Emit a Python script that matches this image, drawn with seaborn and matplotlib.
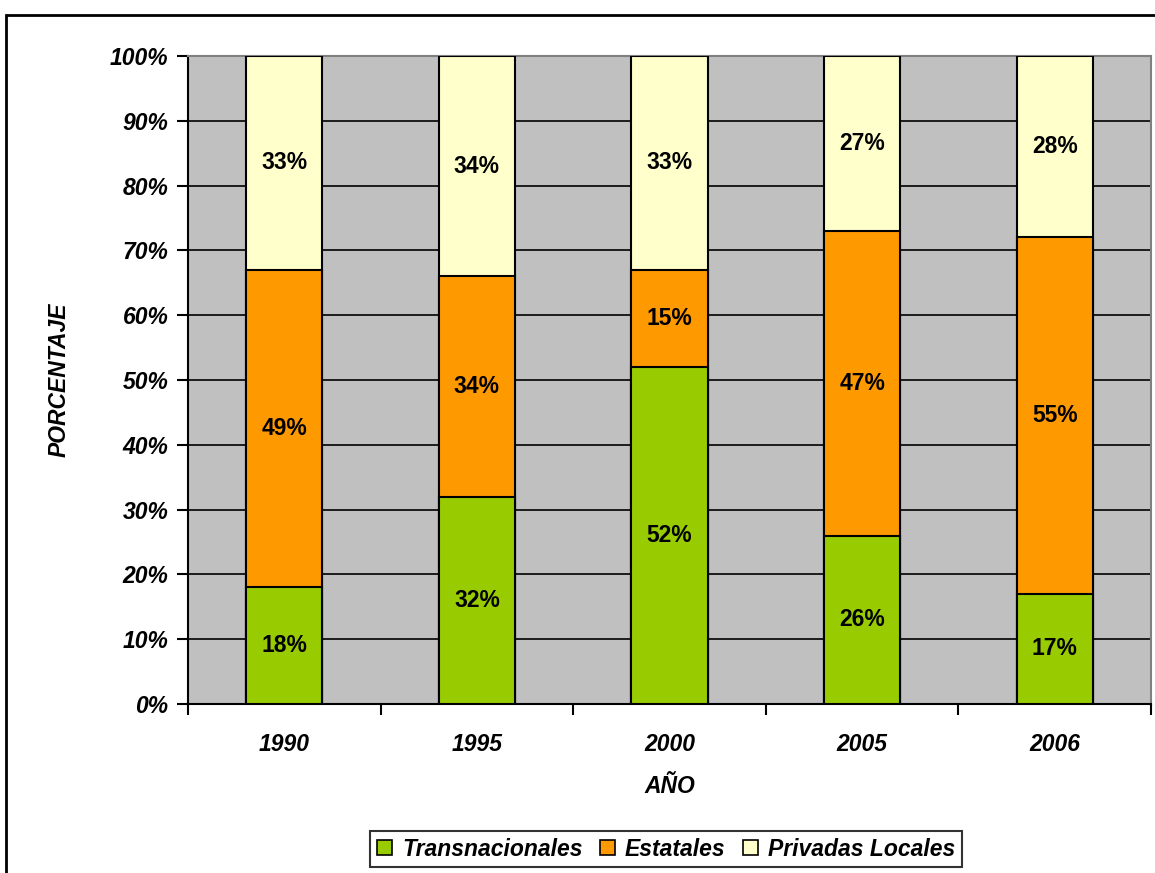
import matplotlib
matplotlib.use("Agg")
import matplotlib.pyplot as plt
import seaborn as sns
import numpy as np
from matplotlib.patches import Rectangle, Patch
from matplotlib.ticker import FixedLocator, PercentFormatter

# Share of ownership by type of company, per year (percent)
years = ["1990", "1995", "2000", "2005", "2006"]
transnacionales = [18, 32, 52, 26, 17]
estatales = [49, 34, 15, 47, 55]
privadas_locales = [33, 34, 33, 27, 28]
series_names = ["Transnacionales", "Estatales", "Privadas Locales"]
series_colors = ["#99CC00", "#FF9900", "#FFFFCC"]
y_ticks = list(range(0, 101, 10))

sns.set_theme(style="white")
plt.rcParams["font.family"] = ["Liberation Sans", "DejaVu Sans"]
plt.rcParams["text.color"] = "black"
plt.rcParams["axes.labelcolor"] = "black"
plt.rcParams["xtick.color"] = "black"
plt.rcParams["ytick.color"] = "black"

FS = 16.5

fig = plt.figure(figsize=(11.55, 8.73), dpi=100)
ax = fig.add_axes([188 / 1155, 1 - 704 / 873, (1151 - 188) / 1155, (704 - 56) / 873])
ax.set_facecolor("#C0C0C0")

# Horizontal gridlines behind the bars
ax.set_axisbelow(True)
ax.yaxis.grid(True, color="black", linewidth=1.2)
ax.xaxis.grid(False)

layers = [transnacionales, estatales, privadas_locales]
cum = np.cumsum(np.array(layers), axis=0)

# Stacked bars: draw the tallest cumulative layer first, then overlay the lower ones
bar_w = 0.395
for i in reversed(range(len(layers))):
    sns.barplot(x=years, y=cum[i], color=series_colors[i], width=bar_w,
                edgecolor="black", linewidth=1.5, saturation=1, ax=ax, zorder=3)

# Segment value labels at the middle of each segment
bottoms = np.vstack([np.zeros(len(years)), cum[:-1]])
for i, vals in enumerate(layers):
    for j, v in enumerate(vals):
        ax.text(j, bottoms[i][j] + v / 2, f"{v}%", ha="center", va="center",
                fontsize=FS, fontweight="bold", color="black", zorder=5)

ax.set_xlim(-0.5, len(years) - 0.5)
ax.set_ylim(0, 100)
ax.yaxis.set_major_locator(FixedLocator(y_ticks))
ax.yaxis.set_major_formatter(PercentFormatter(decimals=0))

# Tick marks at category boundaries, labels centered under each bar
ax.set_xticks(range(len(years)))
ax.set_xticklabels(years)
ax.xaxis.set_minor_locator(FixedLocator(np.arange(-0.5, len(years), 1.0)))
ax.tick_params(axis="x", which="major", length=0, pad=21, labelsize=FS)
ax.tick_params(axis="x", which="minor", length=8, width=1.5, color="black", direction="out", bottom=True)
ax.tick_params(axis="y", which="major", length=8, width=1.5, color="black", direction="out",
               left=True, labelsize=FS, pad=6)
for lab in ax.get_xticklabels() + ax.get_yticklabels():
    lab.set_fontweight("bold")
    lab.set_fontstyle("italic")

for side in ["left", "bottom"]:
    ax.spines[side].set_color("black")
    ax.spines[side].set_linewidth(1.5)
for side in ["top", "right"]:
    ax.spines[side].set_color("#808080")
    ax.spines[side].set_linewidth(1.5)

ax.set_xlabel("AÑO", fontsize=FS, fontweight="bold", fontstyle="italic")
ax.xaxis.set_label_coords(0.5, -0.11)
ax.set_ylabel("PORCENTAJE", fontsize=FS, fontweight="bold", fontstyle="italic")
ax.yaxis.set_label_coords(-0.122, 0.5)

# Legend under the plot
handles = [Patch(facecolor=c, edgecolor="black", linewidth=1.2) for c in series_colors]
leg = fig.legend(handles, series_names, loc="center", bbox_to_anchor=(666 / 1155, 1 - 849 / 873),
                 ncol=3, frameon=True, fancybox=False, edgecolor="black",
                 prop={"size": FS, "weight": "bold", "style": "italic"},
                 handlelength=0.65, handleheight=0.65, handletextpad=0.45, columnspacing=0.75,
                 borderpad=0.3)
leg.get_frame().set_linewidth(1.5)

# Chart-area frame
fig.add_artist(Rectangle((6 / 1155, -0.1), 1.2, 1 - 15 / 873 + 0.1, transform=fig.transFigure,
                         fill=False, edgecolor="black", linewidth=2))

fig.savefig("out.png", dpi=100, facecolor="white")
